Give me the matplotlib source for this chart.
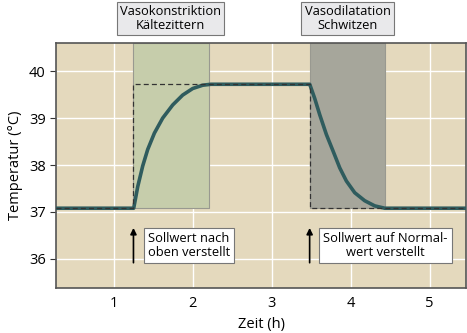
import matplotlib.pyplot as plt

plt.rcParams['font.family'] = ['Open Sans', 'DejaVu Sans']

# Ist-Temperatur (gelesen aus dem Bild)
zeit = [0.27, 1.253, 1.304, 1.367, 1.43, 1.515, 1.62, 1.747, 1.873, 2.0, 2.127, 2.23,
        3.481, 3.544, 3.608, 3.692, 3.776, 3.861, 3.945, 4.051, 4.177, 4.304, 4.43, 5.46]
temp = [37.08, 37.08, 37.54, 37.98, 38.33, 38.68, 39.0, 39.28, 39.49, 39.63, 39.70, 39.72,
        39.72, 39.42, 39.07, 38.65, 38.30, 37.94, 37.66, 37.41, 37.24, 37.13, 37.08, 37.08]

# Sollwert
soll_zeit = [0.27, 1.25, 1.25, 3.48, 3.48, 5.46]
soll_temp = [37.08, 37.08, 39.72, 39.72, 37.08, 37.08]

# Phasen
phasen = [(1.25, 2.2), (3.48, 4.43)]
phasen_farben = ['#c6cdab', '#a6a69b']
phasen_text = ['Vasokonstriktion\nKältezittern', 'Vasodilatation\nSchwitzen']
phasen_mitte = [1.72, 3.96]

pfeil_x = [1.25, 3.48]
hinweis_x = [1.95, 4.44]
hinweis_text = ['Sollwert nach\noben verstellt', 'Sollwert auf Normal-\nwert verstellt']

fig = plt.figure(figsize=(4.67, 3.33), dpi=100)
ax = fig.add_axes([0.12, 0.135, 0.878, 0.736])
ax.set_facecolor('#e4d9bd')
ax.set_xlim(0.27, 5.46)
ax.set_ylim(35.38, 40.6)

ax.grid(True, color='white', linewidth=1)
ax.set_axisbelow(True)

for (a, b), c in zip(phasen, phasen_farben):
    ax.fill_between([a, b], 37.08, 40.6, color=c, edgecolor='#999990', linewidth=0.8, zorder=1)

ax.plot(zeit, temp, color='#2f5c5e', linewidth=2.6, zorder=3, solid_capstyle='butt',
        solid_joinstyle='round')
ax.plot(soll_zeit, soll_temp, color='#333333', linewidth=0.9, linestyle=(0, (4, 2.5)), zorder=4)

for x in pfeil_x:
    ax.annotate('', xy=(x, 36.72), xytext=(x, 35.86),
                arrowprops=dict(arrowstyle='-|>', color='black', lw=1.2, mutation_scale=9))

for x, t in zip(hinweis_x, hinweis_text):
    ax.text(x, 36.29, t, ha='center', va='center', fontsize=9.3, linespacing=1.15,
            bbox=dict(boxstyle='square,pad=0.3', facecolor='white', edgecolor='#777777', linewidth=0.8))

for x, t in zip(phasen_mitte, phasen_text):
    ax.text(x, 41.12, t, ha='center', va='center', fontsize=9.3, linespacing=1.1,
            bbox=dict(boxstyle='square,pad=0.25', facecolor='#e9e9eb', edgecolor='#777777', linewidth=0.8),
            clip_on=False)

ax.set_xticks([1, 2, 3, 4, 5])
ax.set_yticks([36, 37, 38, 39, 40])
ax.tick_params(axis='x', length=0, labelsize=10.5, pad=6)
ax.tick_params(axis='y', length=4, labelsize=10.5, color='#333333')
for s in ax.spines.values():
    s.set_color('#555555')
    s.set_linewidth(1.2)

ax.set_xlabel('Zeit (h)', fontsize=10.5)
ax.set_ylabel('Temperatur (°C)', fontsize=10.5, labelpad=4)

fig.savefig('out.png', dpi=100)
